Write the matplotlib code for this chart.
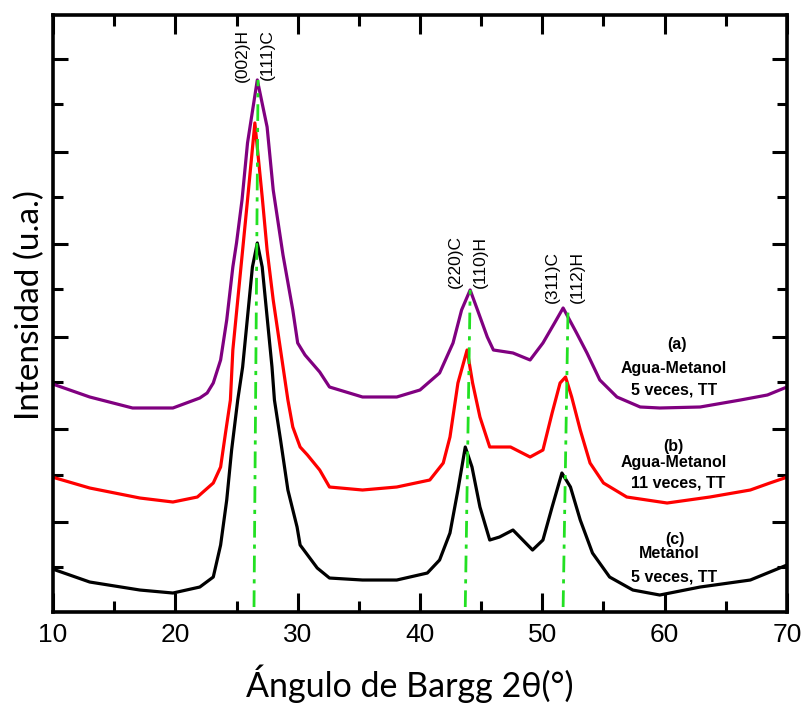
#!/usr/bin/env python3
# -*- coding: utf-8 -*-

import numpy as np
import matplotlib
matplotlib.use('Agg')
import matplotlib.pyplot as plt

# 2theta (deg) and intensity (a.u.)
tt_c = [10.2, 13.0, 17.1, 19.8, 22.0, 23.1, 23.7, 24.2, 24.6, 25.1, 25.5, 25.9, 26.3, 26.7,
	27.1, 27.5, 27.9, 28.1, 28.6, 29.2, 29.95, 30.2, 31.6, 32.6, 35.3, 38.1, 40.6, 41.6,
	42.45, 43.1, 43.7, 44.25, 44.9, 45.7, 46.5, 47.6, 49.2, 50.05, 50.8, 51.6, 52.3, 53.1,
	54.1, 55.5, 57.4, 59.6, 62.9, 67.0, 69.4, 70.0]
I_c = [42, 30, 22, 19, 25, 35, 67, 112, 162, 212, 245, 295, 345, 369,
	345, 295, 245, 212, 172, 122, 85, 67, 44, 34, 32, 32, 39, 52,
	79, 122, 165, 145, 105, 72, 75, 82, 62, 72, 105, 139, 125, 92,
	59, 35, 22, 17, 25, 32, 44, 47]

tt_b = [10.2, 13.0, 17.1, 19.8, 21.8, 23.1, 23.7, 24.1, 24.5, 24.7, 25.1, 25.5, 25.9, 26.5,
	27.1, 27.5, 28.0, 28.6, 29.2, 29.6, 30.2, 30.8, 31.8, 32.6, 35.3, 38.1, 40.8, 41.9,
	42.45, 43.1, 43.85, 44.3, 44.9, 45.7, 47.4, 49.0, 50.05, 50.8, 51.45, 51.9, 52.4, 53.1,
	53.9, 55.0, 56.9, 60.2, 63.7, 67.0, 68.6, 69.8]
I_b = [134, 124, 114, 110, 115, 129, 145, 179, 212, 262, 312, 362, 412, 489,
	415, 362, 312, 262, 212, 185, 165, 157, 142, 125, 122, 125, 132, 149,
	175, 229, 262, 229, 195, 165, 165, 155, 162, 199, 229, 235, 215, 182,
	149, 129, 115, 109, 115, 122, 129, 134]

tt_a = [10.2, 13.0, 16.5, 19.8, 22.0, 22.6, 23.1, 23.7, 24.2, 24.7, 25.0, 25.45, 25.9, 26.7,
	27.5, 28.0, 28.8, 29.6, 30.0, 30.6, 31.8, 32.6, 35.3, 38.1, 40.0, 41.6, 42.7, 43.4,
	44.1, 44.7, 45.5, 46.0, 47.6, 49.0, 50.05, 51.0, 51.7, 52.8, 53.65, 54.7, 56.1, 58.0,
	59.6, 62.9, 66.2, 68.4, 69.8]
I_a = [227, 215, 204, 204, 214, 219, 229, 252, 292, 345, 369, 412, 469, 532,
	485, 422, 357, 302, 269, 257, 240, 225, 215, 215, 222, 239, 269, 302,
	322, 302, 275, 262, 259, 252, 269, 289, 304, 279, 259, 232, 215, 205,
	204, 205, 212, 217, 224]

# reference lines (bottom, top) for each peak
ref_x = [(26.43, 26.76), (43.7, 44.1), (51.7, 52.1)]
ref_y = [(5, 532), (5, 322), (5, 304)]

peak_labels = ['(002)H', '(111)C', '(220)C', '(110)H', '(311)C', '(112)H']

fig = plt.figure(figsize=(8.01, 7.11), dpi=100)
ax = fig.add_axes([0.0662, 0.1392, 0.9163, 0.8398])

ax.plot(tt_c, I_c, color='black', lw=2.3)
ax.plot(tt_b, I_b, color='#ff0000', lw=2.3)
ax.plot(tt_a, I_a, color='#800080', lw=2.3)

for xs, ys in zip(ref_x, ref_y):
	ax.plot(xs, ys, color='#22e022', lw=2.0, ls='-.', dashes=(6, 2.5, 1.5, 2.5))

lab_font = dict(family='Liberation Sans', fontsize=12.5, rotation=90, ha='center', va='bottom')
ax.text(25.45, 530, peak_labels[0], **lab_font)
ax.text(27.5, 532, peak_labels[1], **lab_font)
ax.text(42.86, 324, peak_labels[2], **lab_font)
ax.text(44.9, 324, peak_labels[3], **lab_font)
ax.text(50.8, 309, peak_labels[4], **lab_font)
ax.text(52.85, 309, peak_labels[5], **lab_font)

s_font = dict(family='Liberation Sans', fontsize=11.5, fontweight='bold', ha='center', va='center')
ax.text(61.0, 267, '(a)', **s_font)
ax.text(60.7, 243, 'Agua-Metanol', **s_font)
ax.text(60.8, 222, '5 veces, TT', **s_font)
ax.text(60.7, 166, '(b)', **s_font)
ax.text(60.7, 150, 'Agua-Metanol', **s_font)
ax.text(61.1, 129, '11 veces, TT', **s_font)
ax.text(60.85, 73, '(c)', **s_font)
ax.text(60.4, 59, 'Metanol', **s_font)
ax.text(60.8, 35, '5 veces, TT', **s_font)

ax.set_xlim(10, 70)
ax.set_ylim(0, 597)
ax.set_xticks(np.arange(10, 71, 10))
ax.set_xticks(np.arange(15, 70, 10), minor=True)
ax.set_yticks(90 + 92.5 * np.arange(6))
ax.set_yticks(45 + 92.5 * np.arange(6), minor=True)
ax.set_yticklabels([])

ax.tick_params(axis='both', which='both', direction='in', top=True, right=True, width=2.2)
ax.tick_params(axis='x', which='major', length=14)
ax.tick_params(axis='x', which='minor', length=8)
ax.tick_params(axis='y', which='major', length=11)
ax.tick_params(axis='y', which='minor', length=7)
ax.set_xticklabels([str(v) for v in range(10, 71, 10)], family='Liberation Sans', fontsize=19)
ax.tick_params(axis='x', pad=8)
for s in ax.spines.values():
	s.set_linewidth(2.6)

fig.text(0.511, 0.038, 'Ángulo de Bargg 2θ(°)', family=['Lato', 'DejaVu Sans'], fontsize=24.5, ha='center', va='center')
fig.text(0.037, 0.571, 'Intensidad (u.a.)', family=['Lato', 'DejaVu Sans'], fontsize=24, rotation=90, ha='center', va='center')

fig.savefig('out.png', dpi=100)
